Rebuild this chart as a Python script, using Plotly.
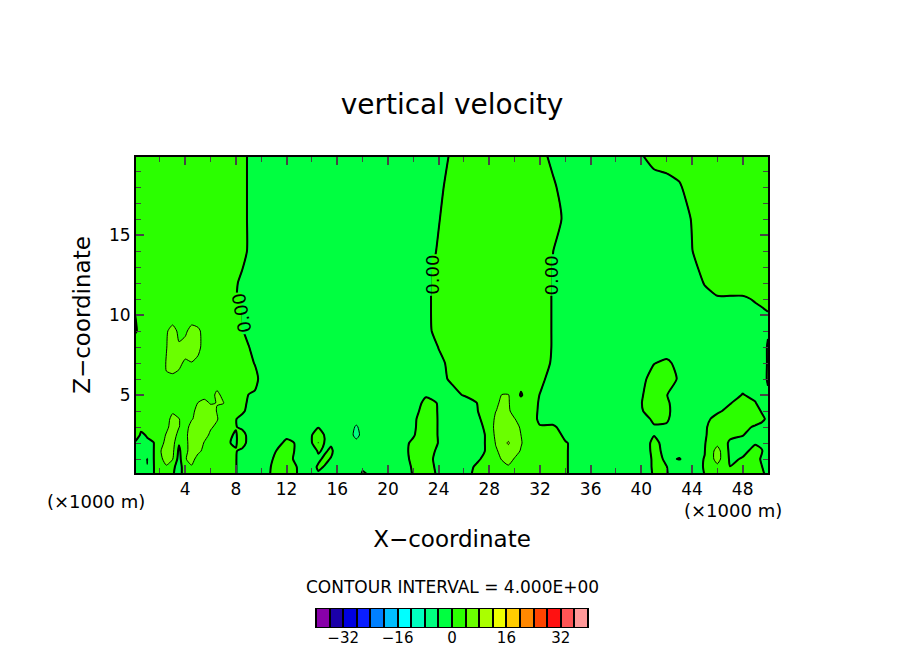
"""Vertical velocity section, contoured every 4 units, with a level bar below."""
import plotly.graph_objects as go

x_km = [0, .5, 1, 1.5, 2, 2.5, 3, 3.5, 4, 4.5,
        5, 5.5, 6, 6.5, 7, 7.5, 8, 8.5, 9, 9.5,
        10, 11, 12, 13, 14, 14.5, 15, 15.5, 16, 17,
        17.5, 18, 20, 22, 23, 24, 25, 26, 27, 28,
        28.5, 29, 29.5, 30, 30.5, 31, 32, 33, 34, 36,
        38, 40, 41, 42, 43, 44, 45, 46, 47, 48,
        49, 49.5, 50]
z_km = [0, .5, 1, 1.5, 2, 2.5, 3, 3.5, 4, 4.5, 5, 6, 7, 8, 9, 10, 11, 12, 14, 16, 18, 20]

w_00 = [-2, -2, -2, -.1, 1.7, 2, .4, -2, 2.5, 3,
        3, 2.5, 2.3, 2.2, 2, 1.2, .1, -1.2, -2, -2,
        -1.4, .6, 1.8, -.4, -.8, -.3, -1, -1.5, -2, -2,
        -2, .5, -2, .1, 2, -.6, -2, -1.2, .8, 2,
        2, 2.2, 2.4, 2.3, 2, 2, 2, 2, .2, -1.8,
        -2, -2, .3, .2, -2, -2, .05, 1.5, .6, 2,
        1.5, .5, -.6]
w_05 = [-2, -2.2, -3.9, -.1, 1.7, 3.7, 1.1, -2, 2.5, 3.7,
        3, 2.5, 2.3, 2.2, 2, 1.2, .1, -1.2, -2, -2,
        -1.5, .5, 1.6, -.4, -.8, .3, -.1, -1.5, -2, -2,
        -2, -.5, -2, .2, 1.5, -.8, -2, -1.5, .5, 2,
        2.5, 3, 3.7, 3, 2.2, 2, 2, 2, .2, -1.8,
        -2, -2.5, .6, .05, -1.5, -2, .3, 3, .05, 1.6,
        1.2, .1, -1]
w_10 = [-2, -2, -4.2, -.1, 3.3, 5, 4.2, -1.5, 3.8, 5,
        3, 2.8, 2.5, 2.3, 2, 1, .1, -1.2, -2, -2,
        -2, .2, .7, -.7, -1.5, -.4, .4, -.1, -2, -2,
        -2, -2, -2, .4, 1, -.8, -2, -2, -.6, 1.4,
        3, 4.2, 5, 3.8, 2.5, 2, 2, 2, .2, -1.8,
        -2, -3.5, .9, -.4, .1, -1, .1, 5.5, -.5, .2,
        1, -.3, -1.5]
w_15 = [-1.5, -1.6, -1.6, -.1, 3.7, 5.5, 5, -.8, 3, 5.5,
        4.6, 3.4, 2.8, 2.5, 2.2, .6, .2, -1, -2, -2,
        -2, -.3, 1.5, -1, -1, .2, -.3, .4, -1, -2,
        -2, -2, -2, .5, 1.2, -.5, -2, -2, -1.3, .7,
        3.5, 5, 6, 5, 3.8, 2.5, 2, 2, .2, -1.8,
        -2, -2.5, 1, -.9, -.8, -1.5, -.1, 5.5, -.8, -.6,
        .7, .2, -1.5]
w_20 = [-.1, -.8, -.2, -.1, 2.6, 5, 5.6, .3, 3, 5.5,
        5.8, 3.8, 3, 2.8, 2.2, .05, -.3, 2, -1.5, -2,
        -2, -1.2, .6, -.4, -.1, 4.05, -.3, -.3, -1.5, -2.5,
        -2.5, -2, -2, .4, 1.5, -.1, -2, -2, -1.3, .7,
        4.2, 6, 8.5, 5.5, 4.2, 3, 2, 1.5, .2, -1.8,
        -2, -1.9, .8, -1.1, -1.5, -2, -.2, 3, -.6, -.8,
        -.2, -.6, -1.2]
w_25 = [1, -.2, .1, 1, 2.6, 4.2, 5.5, 3, 3.2, 5.5,
        6, 5, 3.5, 3, 2.5, .3, -.3, 2, -1.5, -2,
        -2, -2, -.6, -1.2, -.1, 3, -.3, -2, -2, -2.5,
        -5.5, -2.5, -2, -.2, 1.5, -.15, -2, -2, -1.3, .7,
        5, 6, 6, 5.5, 4, 3, 2, 1.4, -.6, -2,
        -2, -2, -.1, -2, -2, -2, -.5, 2.8, .8, .1,
        -1, -.8, -.8]
w_30 = [2, .3, 1.5, 1.8, 2.5, 3.4, 5, 4.1, 2.9, 5,
        6, 5.5, 4.3, 3.5, 2.7, 1.5, .2, -1, -2, -2,
        -2, -2, -2, -2, -2, -.3, -2, -2, -2, -2.5,
        -4.5, -2.5, -2, -.4, 1.5, -.15, -2, -2, -1, 1,
        5.5, 6, 6, 5.2, 3.6, 2.5, .2, .6, -1.4, -2,
        -2, -2, -.3, -.4, -2, -2, -.6, 2.4, 2, .9,
        -.4, -.8, -.8]
w_35 = [2, 2, 2, 2, 2.5, 3, 4.8, 4.05, 3.5, 3.8,
        4.8, 5.2, 5, 4.2, 2.8, 2, .1, -1, -2, -2,
        -2, -2, -2, -2, -2, -2, -2, -2, -2, -2,
        -2.5, -2, -2, -.5, 1.5, -.15, -2, -2, -.6, 1.4,
        4.8, 5.5, 5.2, 4.1, 3, 2, -.6, -1.5, -2, -2,
        -2, -1.4, .6, .4, -1.8, -2, -1, 1.2, 2, 2,
        1.5, .6, -.6]
w_40 = [2, 2, 2, 2, 2.4, 2.8, 3.6, 3.5, 3.2, 3.3,
        4.8, 5, 5, 3.9, 3, 2.2, 1.5, .6, -.9, -1.5,
        -2, -2, -2, -2, -2, -2, -2, -2, -2, -2,
        -2, -2, -2, -1, 1.2, -.15, -2, -2, -.2, 1.8,
        3.9, 5, 4.4, 3, 2.5, 1.6, -.4, -2, -2, -2,
        -2, -.3, 1.8, .8, -2, -2, -1.5, -.6, 1, 2,
        1, -.2, -1]
w_45 = [2, 2, 2, 2, 2.3, 2.5, 2.8, 2.8, 2.8, 3,
        4.05, 4.7, 3.8, 4.05, 4.1, 3, 2, 1.2, -.6, -1,
        -2, -2, -2, -2, -2, -2, -2, -2, -2, -2,
        -2, -2, -2, -1.5, .8, -.15, -2, -2, -.05, 2,
        3.2, 4.8, 4.2, 3, 2.2, 1.7, -.3, -2, -2, -2,
        -2, -.1, 2, .6, -2, -2, -2, -1.5, -.2, 1.5,
        .1, -.8, -1]
w_50 = [2, 2, 2, 2, 2.3, 2.5, 2.6, 2.5, 2.5, 3,
        3.2, 3.2, 3.1, 4.5, 3.5, 2.5, 1.8, 2, -.1, -.5,
        -2, -2, -2, -2, -2, -2, -2, -2, -2, -2,
        -2, -2, -2, -2, -.3, -.3, -1, .2, 1, 2,
        2.8, 4.1, 4.1, 2.8, -.5, 2, -.1, -2, -2, -2,
        -2, -.3, 1.8, .1, -1.8, -2, -2, -1.6, -.9, .1,
        -.5, -1, -.4]
w_60 = [2, 2, 2, 2, 2.5, 3.9, 3.5, 3.3, 3, 3,
        3, 3, 2.8, 2.7, 2.5, 2.3, 2, 2.2, 1.5, 1.2,
        -1.2, -2, -2, -2, -2, -2, -2, -2, -2, -2,
        -2, -2, -2, -2, -2, -.9, .4, 2, 2, 2,
        2, 2, 2, 2, 2, 2, .8, -1.2, -2, -2,
        -2, -.8, 1.2, 1.5, -.4, -2, -2, -2, -2, -1,
        -1.5, -1.2, .3]
w_70 = [2, 2, 2, 2, 2.8, 4.1, 5, 4.5, 3.6, 3.9,
        3.5, 3, 2.5, 2.3, 2, 2, 2, 1.7, 1, -.2,
        -2, -2, -2, -2, -2, -2, -2, -2, -2, -2,
        -2, -2, -2, -2, -2, -.7, .7, 2, 2, 2,
        2, 2, 2, 2, 2, 2, 1.6, -.4, -2, -2,
        -2, -2, -.1, .5, -.8, -2, -2, -2, -2, -2,
        -2, -1.5, .3]
w_80 = [2, 2, 2, 2, 2.8, 3.9, 5, 4.4, 5.2, 5.5,
        4.6, 3.2, 2.6, 2.3, 2, 2, 1.9, 1.5, .2, -1.8,
        -2, -2, -2, -2, -2, -2, -2, -2, -2, -2,
        -2, -2, -2, -2, -1.9, .1, 2, 2, 2, 2,
        2, 2, 2, 2, 2, 2, 1.8, -.2, -2, -2,
        -2, -2, -2, -1.5, -2, -2, -2, -2, -2, -2,
        -2, -1.5, .3]
w_90 = [-.5, 1, 2, 2, 2.5, 3.5, 5.5, 3.2, 3.4, 5.2,
        4.6, 3, 2.5, 2.2, 2, 2, 1.4, .4, -1.6, -2,
        -2, -2, -2, -2, -2, -2, -2, -2, -2, -2,
        -2, -2, -2, -2, -.9, 1.1, 2, 2, 2, 2,
        2, 2, 2, 2, 2, 2, 1.8, -.2, -2, -2,
        -2, -2, -2, -2, -2, -2, -2, -2, -2, -2,
        -2, -1.5, -.3]
w_100 = [-.1, 1.5, 2, 2, 2, 2, 1.5, 2, 2, 2,
         2, 2, 2, 2, 2, 2, 1, -.2, -2, -2,
         -2, -2, -2, -2, -2, -2, -2, -2, -2, -2,
         -2, -2, -2, -2, -.8, 1.2, 2, 2, 2, 2,
         2, 2, 2, 2, 2, 2, 1.8, -.2, -2, -2,
         -2, -2, -2, -2, -2, -2, -2, -2, -2, -2,
         -1, -.8, -.4]
w_110 = [2, 2, 2, 2, 2, 2, 2, 2, 2, 2,
         2, 2, 2, 2, 2, 2, .2, -1.2, -2, -2,
         -2, -2, -2, -2, -2, -2, -2, -2, -2, -2,
         -2, -2, -2, -2, -.8, 1.2, 2, 2, 2, 2,
         2, 2, 2, 2, 2, 2, 1.8, -.2, -2, -2,
         -2, -2, -2, -2, -2, -2, -1.2, -.5, -.5, -.5,
         .3, .8, 1.6]
w_120 = [2, 2, 2, 2, 2, 2, 2, 2, 2, 2,
         2, 2, 2, 2, 2, 2, .6, -1.4, -2, -2,
         -2, -2, -2, -2, -2, -2, -2, -2, -2, -2,
         -2, -2, -2, -2, -.8, 1.2, 2, 2, 2, 2,
         2, 2, 2, 2, 2, 2, 1.8, -.2, -2, -2,
         -2, -2, -2, -2, -2, -1.8, .2, 2, 2, 2,
         2, 2, 2]
w_140 = [2, 2, 2, 2, 2, 2, 2, 2, 2, 2,
         2, 2, 2, 2, 2, 2, 2, 2, -.7, -2,
         -2, -2, -2, -2, -2, -2, -2, -2, -2, -2,
         -2, -2, -2, -2, -1.6, .4, 2, 2, 2, 2,
         2, 2, 2, 2, 2, 2, 2, .1, -1.9, -2,
         -2, -2, -2, -2, -2, -.1, 1.9, 2, 2, 2,
         2, 2, 2]
w_160 = [2, 2, 2, 2, 2, 2, 2, 2, 2, 2,
         2, 2, 2, 2, 2, 2, 2, 2, -.7, -2,
         -2, -2, -2, -2, -2, -2, -2, -2, -2, -2,
         -2, -2, -2, -2, -2, -.2, 1.8, 2, 2, 2,
         2, 2, 2, 2, 2, 2, 2, 1.4, -.6, -2,
         -2, -2, -2, -2, -1.8, .2, 2, 2, 2, 2,
         2, 2, 2]
w_180 = [2, 2, 2, 2, 2, 2, 2, 2, 2, 2,
         2, 2, 2, 2, 2, 2, 2, 2, -.7, -2,
         -2, -2, -2, -2, -2, -2, -2, -2, -2, -2,
         -2, -2, -2, -2, -2, -.8, 1.2, 2, 2, 2,
         2, 2, 2, 2, 2, 2, 2, .6, -1.4, -2,
         -2, -2, -2, -1.5, -.4, 1.6, 2, 2, 2, 2,
         2, 2, 2]
w_200 = [2, 2, 2, 2, 2, 2, 2, 2, 2, 2,
         2, 2, 2, 2, 2, 2, 2, 2, -.7, -2,
         -2, -2, -2, -2, -2, -2, -2, -2, -2, -2,
         -2, -2, -2, -2, -2, -1.6, .4, 2, 2, 2,
         2, 2, 2, 2, 2, 2, 1.1, -.9, -2, -2,
         -2, -.2, 1.6, 2, 2, 2, 2, 2, 2, 2,
         2, 2, 2]

velocity = [w_00, w_05, w_10, w_15, w_20, w_25, w_30, w_35, w_40, w_45, w_50, w_60,
            w_70, w_80, w_90, w_100, w_110, w_120, w_140, w_160, w_180, w_200]

level_colors = ['#8800AA', '#1B00A8', '#0000E0', '#0A1EFF', '#0080FF', '#00BFFF', '#00FFFF',
                '#00FFBF', '#00FF80', '#00FF40', '#2BFF00', '#6AFF00', '#AAFF00', '#EEFF00',
                '#FFCC00', '#FF8800', '#FF4400', '#FF1111', '#FF5555', '#FF9999']
bar_levels = [-38, -34, -30, -26, -22, -18, -14, -10, -6, -2,
              2, 6, 10, 14, 18, 22, 26, 30, 34, 38]
bar_ticks = [-32, -16, 0, 16, 32]
bar_labels = ['\u221232', '\u221216', '0', '16', '32']
x_ticks = [4, 8, 12, 16, 20, 24, 28, 32, 36, 40, 44, 48]
z_ticks = [5, 10, 15]

# contour labels: x, z, angle, colour left of the line, colour right of the line
line_labels = [(8.45, 10.1, -100, '#2BFF00', '#00FF40'),
               (23.45, 12.5, -90, '#00FF40', '#2BFF00'),
               (32.9, 12.5, -90, '#2BFF00', '#00FF40')]

FONT = 'DejaVu Sans'
# the page keeps its 8 px body margin, so the figure is that much smaller
WIDTH, HEIGHT = 888, 638


def px_x(px: float) -> float:
    """ Paper x of a window pixel column """
    return (px - 8) / WIDTH


def px_y(py: float) -> float:
    """ Paper y of a window pixel row """
    return 1 - (py - 8) / HEIGHT


for row in velocity:
    assert len(row) == len(x_km)

scale = []
for i, color in enumerate(level_colors):
    scale.append([i / 20, color])
    scale.append([(i + 1) / 20, color])

fig = go.Figure()
fig.add_trace(go.Contour(x=x_km, y=z_km, z=velocity, colorscale=scale, zmin=-40, zmax=40,
                         autocontour=False, showscale=False,
                         contours=dict(start=-36, end=36, size=4, coloring='fill'),
                         line=dict(width=0, smoothing=.6)))
fig.add_trace(go.Contour(x=x_km, y=z_km, z=velocity, autocontour=False, showscale=False,
                         contours=dict(start=-4, end=8, size=4, coloring='none'),
                         line=dict(color='black', width=1, smoothing=.6)))
fig.add_trace(go.Contour(x=x_km, y=z_km, z=velocity, autocontour=False, showscale=False,
                         contours=dict(start=0, end=0, size=1, coloring='none'),
                         line=dict(color='black', width=2, smoothing=.6)))
fig.add_trace(go.Heatmap(x=bar_levels, y=[0], z=[bar_levels], colorscale=scale, zmin=-40, zmax=40,
                         showscale=False, xgap=2, xaxis='x2', yaxis='y2'))

for x, z, angle, left, right in line_labels:
    fig.add_shape(type='rect', x0=x - .6, x1=x, y0=z - 1.3, y1=z + 1.3,
                  fillcolor=left, line_width=0)
    fig.add_shape(type='rect', x0=x, x1=x + .6, y0=z - 1.3, y1=z + 1.3,
                  fillcolor=right, line_width=0)
    fig.add_annotation(x=x, y=z, text='0.00', textangle=angle, showarrow=False,
                       font=dict(family=FONT, size=18, color='black'))

fig.add_shape(type='rect', xref='x2 domain', yref='y2 domain', x0=0, x1=1, y0=0, y1=1,
              fillcolor='black', line=dict(color='black', width=2), layer='below')

texts = [('(\u00d71000 m)', 96, 501, 18), ('(\u00d71000 m)', 733, 511, 18),
         ('CONTOUR INTERVAL = 4.000E+00', 452, 587, 17)]
for text, px, py, size in texts:
    fig.add_annotation(xref='paper', yref='paper', x=px_x(px), y=px_y(py), text=text,
                       xanchor='center', yanchor='middle', showarrow=False,
                       font=dict(family=FONT, size=size, color='black'))

fig.update_layout(
    width=WIDTH, height=HEIGHT, margin=dict(l=0, r=0, t=0, b=0),
    paper_bgcolor='white', plot_bgcolor='white', showlegend=False,
    font=dict(family=FONT, color='black'),
    title=dict(text='vertical velocity', x=px_x(452), xanchor='center',
               y=px_y(104), yanchor='middle', font=dict(family=FONT, size=28)),
    xaxis=dict(domain=[px_x(136), px_x(768)], range=[.11, 50], tickvals=x_ticks,
               ticks='inside', ticklen=8, tickwidth=2, linewidth=2, linecolor='black',
               mirror='allticks', showgrid=False, zeroline=False, tickfont=dict(size=17),
               minor=dict(dtick=2, tick0=0, ticks='inside', ticklen=5, tickwidth=1,
                          showgrid=False),
               title=dict(text='X\u2212coordinate', font=dict(size=23), standoff=32)),
    yaxis=dict(domain=[px_y(473), px_y(157)], range=[.125, 19.875],
               tickvals=z_ticks, ticks='inside', ticklen=8, tickwidth=2, linewidth=2,
               linecolor='black', mirror='allticks', showgrid=False, zeroline=False,
               tickfont=dict(size=17),
               minor=dict(dtick=1, tick0=0, ticks='inside', ticklen=5, tickwidth=1,
                          showgrid=False),
               title=dict(text='Z\u2212coordinate', font=dict(size=23), standoff=12)),
    xaxis2=dict(domain=[px_x(316), px_x(588)], anchor='y2', range=[-40, 40],
                tickvals=bar_ticks, ticktext=bar_labels, showgrid=False, zeroline=False,
                ticks='', showline=False, tickfont=dict(size=15)),
    yaxis2=dict(domain=[px_y(627), px_y(609)], anchor='x2', range=[-.5, .5],
                showticklabels=False, showgrid=False, zeroline=False, ticks=''),
)

fig.write_html("out.html")
